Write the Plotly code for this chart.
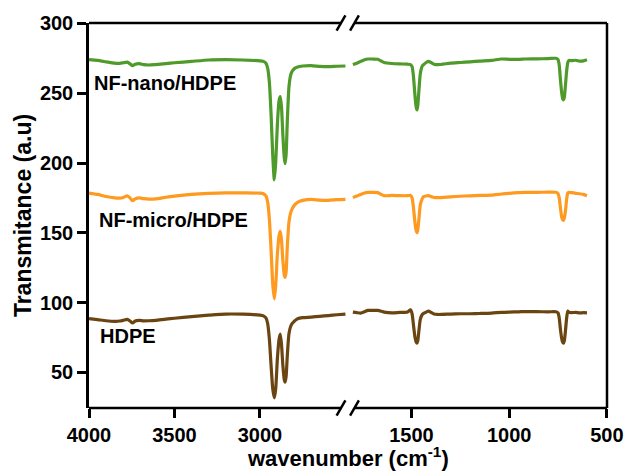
import plotly.graph_objects as go

# ---------------- data ----------------
wn_left = [4000, 3950, 3900, 3850, 3820, 3800, 3776, 3760, 3745, 3730, 3706, 3680, 3650, 3612,
           3550, 3500, 3400, 3300, 3200, 3100, 3000, 2980, 2965, 2955, 2945, 2935, 2925, 2916,
           2908, 2898, 2888, 2881, 2874, 2866, 2858, 2853, 2847, 2840, 2830, 2818, 2800, 2780,
           2750, 2700, 2650, 2600, 2550, 2500]

wn_right = [1800, 1780, 1760, 1740, 1723, 1700, 1673, 1655, 1640, 1600, 1560, 1520, 1505, 1497,
            1490, 1482, 1476, 1472, 1468, 1462, 1455, 1445, 1438, 1425, 1413, 1400, 1385, 1365,
            1300, 1250, 1200, 1150, 1090, 1040, 1000, 950, 920, 860, 800, 761, 750, 744, 738,
            731, 726, 722, 718, 712, 706, 700, 694, 680, 660, 640, 620, 602]

nano_left = [274.0, 273.5, 272.5, 271.5, 271.4, 271.8, 272.3, 271.0, 269.8, 270.8, 271.2, 270.5,
             270.2, 270.5, 271.2, 271.8, 272.8, 273.8, 274.0, 273.8, 273.2, 272.8, 271.5, 268.0,
             258.0, 235.0, 205.0, 188.0, 200.0, 228.0, 245.0, 247.5, 240.0, 220.0, 204.0, 199.5,
             206.0, 230.0, 255.0, 264.0, 267.5, 268.8, 269.5, 269.8, 269.2, 269.0, 269.3, 269.5]

micro_left = [178.5, 177.5, 176.0, 175.0, 174.8, 175.3, 176.5, 175.0, 173.0, 174.3, 175.0, 174.5,
              174.2, 174.3, 175.5, 176.3, 177.5, 178.2, 178.6, 178.6, 178.4, 178.0, 176.5, 172.0,
              160.0, 138.0, 113.0, 102.7, 112.0, 135.0, 148.0, 151.0, 145.0, 130.0, 120.0, 118.0,
              122.0, 140.0, 158.0, 165.3, 169.5, 171.8, 173.2, 174.0, 173.4, 173.3, 173.8, 174.0]

hdpe_left = [88.5, 87.8, 87.0, 86.6, 86.8, 87.3, 88.0, 86.8, 85.4, 86.8, 87.2, 86.9,
             87.0, 87.3, 88.2, 88.8, 90.0, 91.0, 91.8, 91.7, 91.0, 90.5, 89.0, 85.0,
             74.0, 55.0, 38.0, 31.7, 38.0, 60.0, 74.0, 77.5, 70.0, 55.0, 45.0, 43.0,
             47.0, 62.0, 78.0, 83.7, 86.5, 88.4, 89.2, 89.6, 90.2, 90.7, 91.3, 91.8]

nano_right = [270.5, 271.5, 272.8, 274.0, 274.5, 274.5, 274.3, 273.0, 272.0, 271.3, 271.0, 270.8,
              270.5, 269.0, 262.0, 248.0, 240.0, 238.0, 241.0, 252.0, 264.0, 269.5, 270.5, 272.0,
              272.8, 272.0, 270.8, 270.5, 271.5, 272.0, 272.5, 273.0, 273.5, 274.5, 274.3, 274.2,
              274.5, 274.6, 274.8, 275.0, 274.0, 270.0, 260.0, 250.0, 246.0, 245.2, 247.0, 256.0,
              266.0, 272.0, 273.5, 273.3, 273.6, 273.0, 273.2, 274.0]

micro_right = [175.2, 176.3, 177.5, 178.5, 179.0, 179.0, 178.8, 177.5, 176.6, 176.8, 176.6, 176.6,
               176.8, 175.0, 168.0, 157.0, 151.5, 150.0, 152.0, 160.0, 170.0, 174.5, 175.9, 176.4,
               176.6, 176.0, 175.3, 175.2, 175.8, 176.2, 176.5, 176.8, 177.0, 177.8, 178.3, 178.8,
               179.0, 179.0, 179.1, 179.0, 178.0, 175.0, 168.0, 161.0, 159.2, 159.0, 160.5, 166.0,
               174.0, 178.5, 179.0, 178.8, 178.3, 178.0, 177.5, 176.6]

hdpe_right = [93.2, 92.8, 92.5, 93.5, 94.4, 94.5, 94.4, 93.8, 93.2, 92.6, 93.0, 93.3,
              94.9, 92.0, 84.0, 75.0, 71.8, 71.0, 72.5, 80.0, 88.0, 91.5, 92.3, 93.2,
              93.9, 93.0, 91.8, 91.5, 91.8, 92.0, 92.0, 92.2, 92.5, 93.0, 93.2, 93.4,
              93.6, 93.5, 93.4, 93.4, 92.5, 89.0, 81.0, 74.0, 71.5, 71.0, 72.5, 80.0,
              89.0, 93.9, 93.0, 92.8, 93.0, 92.6, 92.8, 92.7]

series_names = ["NF-nano/HDPE", "NF-micro/HDPE", "HDPE"]
series_colors = ["#4e9a2b", "#fd9a1f", "#6a4511"]
label_x = [3980, 3956, 3945]
label_y = [257.5, 159.5, 76]

left_ticks = [4000, 3500, 3000]
right_ticks = [1500, 1000, 500]
y_ticks = [50, 100, 150, 200, 250, 300]

# ---------------- figure ----------------
FONT = "Liberation Sans, Arial, sans-serif"
fig = go.Figure()

lefts = [nano_left, micro_left, hdpe_left]
rights = [nano_right, micro_right, hdpe_right]
for name, col, yl, yr in zip(series_names, series_colors, lefts, rights):
    fig.add_trace(go.Scatter(x=wn_left, y=yl, mode="lines", name=name,
                             line=dict(color=col, width=3.2, shape="spline", smoothing=0.6),
                             xaxis="x", yaxis="y", showlegend=False))
    fig.add_trace(go.Scatter(x=wn_right, y=yr, mode="lines", name=name,
                             line=dict(color=col, width=3.2, shape="spline", smoothing=0.6),
                             xaxis="x2", yaxis="y", showlegend=False))

for name, lx, ly in zip(series_names, label_x, label_y):
    fig.add_annotation(x=lx, y=ly, xref="x", yref="y", text=f"<b>{name}</b>",
                       showarrow=False, xanchor="left", yanchor="middle",
                       font=dict(family=FONT, size=20, color="black"))

tickfont = dict(family=FONT, size=20, color="black")
axis_common = dict(showgrid=False, zeroline=False, ticks="outside", ticklen=9,
                   tickwidth=2.5, tickcolor="black", tickfont=tickfont, showline=False)

fig.update_layout(
    width=636, height=473,
    margin=dict(l=89, r=20, t=20, b=65),
    plot_bgcolor="white", paper_bgcolor="white",
    xaxis=dict(domain=[0, 0.5], range=[4000, 2485], tickvals=left_ticks,
               ticktext=[f"<b>{t}</b>" for t in left_ticks], anchor="y", **axis_common),
    xaxis2=dict(domain=[0.5, 1], range=[1825, 499.5], tickvals=right_ticks,
                ticktext=[f"<b>{t}</b>" for t in right_ticks], anchor="y", **axis_common),
    yaxis=dict(range=[24.5, 300.3], tickvals=y_ticks,
               ticktext=[f"<b>{t}</b>" for t in y_ticks],
               showgrid=False, zeroline=False, ticks="outside", ticklen=9, tickwidth=2.5,
               tickcolor="black", tickfont=tickfont, showline=True, linewidth=2.5,
               linecolor="black",
               title=dict(text="<b>Transmitance (a.u)</b>", standoff=2,
                          font=dict(family=FONT, size=23, color="black"))),
)

# x-axis title as annotation centred under the whole plot
fig.add_annotation(x=0.5, y=-0.087, xref="paper", yref="paper", yanchor="top",
                   text="<b>wavenumber (cm<sup>-1</sup>)</b>", showarrow=False,
                   font=dict(family=FONT, size=22, color="black"))

# frame lines with break gap
gap_l, gap_r = 0.487, 0.512
lw = 2.5
for yv in (0, 1):
    fig.add_shape(type="line", xref="paper", yref="paper", x0=0, x1=gap_l, y0=yv, y1=yv,
                  line=dict(color="black", width=lw))
    fig.add_shape(type="line", xref="paper", yref="paper", x0=gap_r, x1=1, y0=yv, y1=yv,
                  line=dict(color="black", width=lw))
    # the two slanted break marks
    for xc in (0.4865, 0.5125):
        fig.add_shape(type="line", xref="paper", yref="paper",
                      x0=xc - 0.0085, x1=xc + 0.0085, y0=yv - 0.02, y1=yv + 0.02,
                      line=dict(color="black", width=lw))
fig.add_shape(type="line", xref="paper", yref="paper", x0=1, x1=1, y0=0, y1=1,
              line=dict(color="black", width=lw))

fig.write_html("out.html", config={"displayModeBar": False},
               post_script="document.body.style.margin='0';document.body.style.overflow='hidden';")
